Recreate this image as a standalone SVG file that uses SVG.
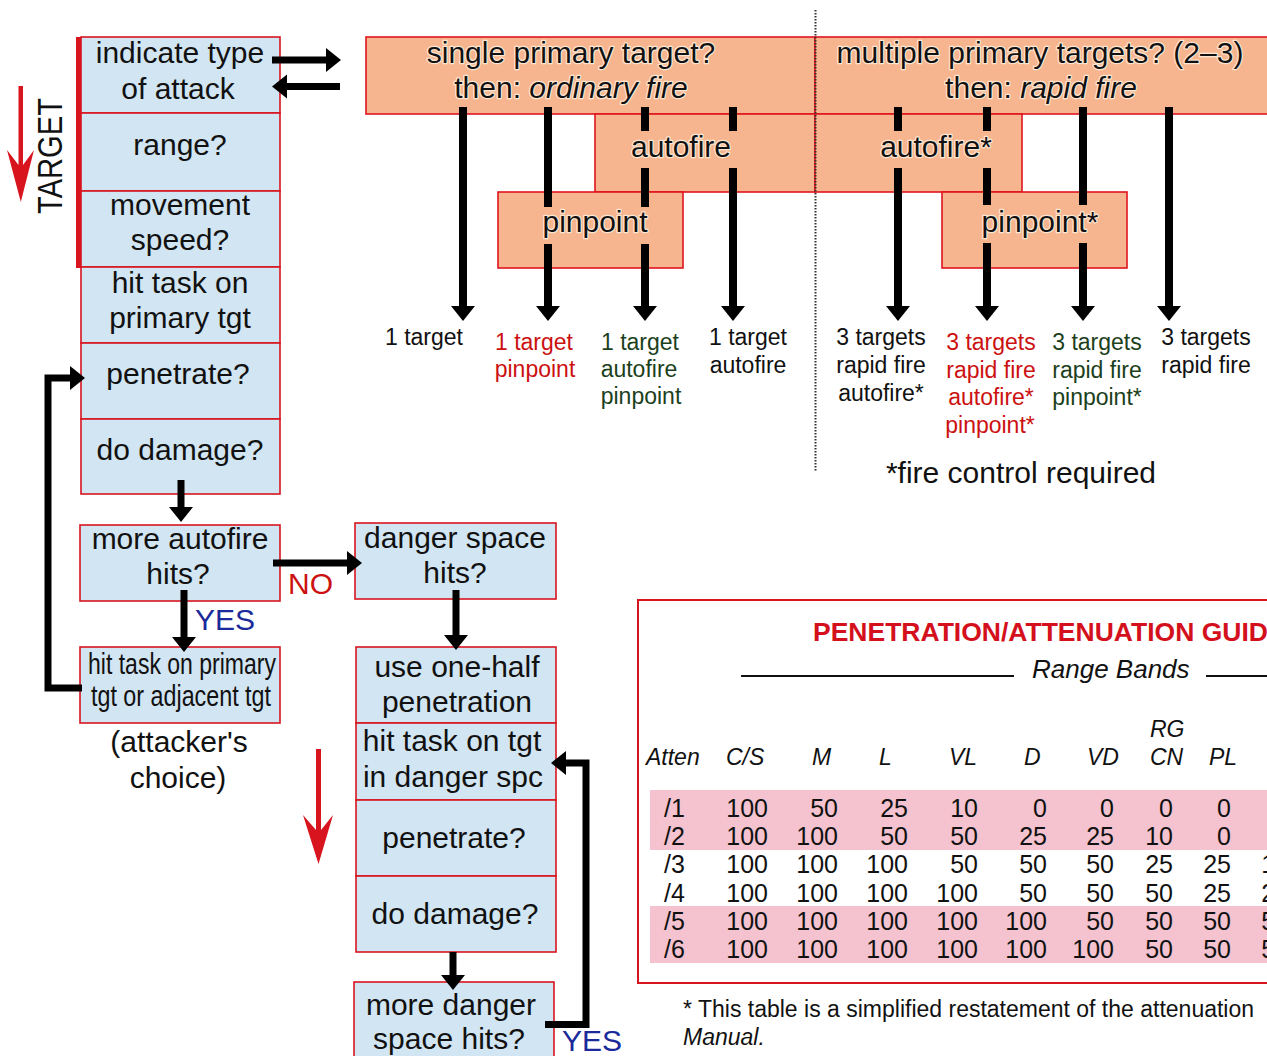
<svg xmlns="http://www.w3.org/2000/svg" width="1267" height="1056" viewBox="0 0 1267 1056">
<style>
.bx{fill:#d2e5f2;stroke:#d8141e;stroke-width:1.6}
.ob{fill:#f6b58f;stroke:#e0141e;stroke-width:1.6}
.t{font-family:"Liberation Sans",Arial,sans-serif;font-size:30px;text-anchor:middle;fill:#111}
.to{font-family:"Liberation Sans",Arial,sans-serif;font-size:30px;text-anchor:middle;fill:#111;stroke:#fde6d2;stroke-width:2.5;paint-order:stroke;stroke-linejoin:round}
.lb{font-family:"Liberation Sans",Arial,sans-serif;font-size:23px;text-anchor:middle;fill:#111}
.red{fill:#cc1111}
.grn{fill:#1c3f1c}
.blue{fill:#1a2a9a}
.con{fill:none;stroke:#000;stroke-width:7;stroke-linejoin:miter}
.cv{fill:none;stroke:#000;stroke-width:8}
.hd{font-family:"Liberation Sans",Arial,sans-serif;font-size:23px;font-style:italic;fill:#111}
.num{font-family:"Liberation Sans",Arial,sans-serif;font-size:25px;text-anchor:end;fill:#111}
.ra{fill:#d8141e}
</style>
<defs>
<marker id="ah" markerUnits="userSpaceOnUse" markerWidth="20" markerHeight="30" refX="0" refY="12" orient="auto" overflow="visible">
<path d="M0,0 L15,12 L0,24 Z" fill="#000"/>
</marker>
</defs>

<!-- left red bar and TARGET -->
<rect x="76" y="37" width="5" height="231" class="ra"/>
<text transform="translate(62,156) rotate(-90)" font-family="Liberation Sans, Arial, sans-serif" font-size="35" text-anchor="middle" fill="#111" textLength="116" lengthAdjust="spacingAndGlyphs">TARGET</text>
<path class="ra" d="M18.5,86 H23 V165 L34,150 L20.8,202 L7,150 L18.5,165 Z"/>
<path class="ra" d="M316,749 H321 V830 L333,815 L318.5,864 L303,815 L316,830 Z"/>

<!-- left column nodes -->
<g id="n-indicate"><rect class="bx" x="81" y="37" width="199" height="76"/><text class="t" x="180" y="63">indicate type</text><text class="t" x="178" y="99">of attack</text></g>
<g id="n-range"><rect class="bx" x="81" y="113" width="199" height="78"/><text class="t" x="180" y="155">range?</text></g>
<g id="n-movement"><rect class="bx" x="81" y="191" width="199" height="76"/><text class="t" x="180" y="215">movement</text><text class="t" x="180" y="250">speed?</text></g>
<g id="n-hittask"><rect class="bx" x="81" y="267" width="199" height="76"/><text class="t" x="180" y="293">hit task on</text><text class="t" x="180" y="328">primary tgt</text></g>
<g id="n-penetrate"><rect class="bx" x="81" y="343" width="199" height="76"/><text class="t" x="178" y="384">penetrate?</text></g>
<g id="n-damage"><rect class="bx" x="81" y="419" width="199" height="75"/><text class="t" x="180" y="460">do damage?</text></g>
<g id="n-moreauto"><rect class="bx" x="80" y="525" width="200" height="76"/><text class="t" x="180" y="549">more autofire</text><text class="t" x="178" y="584">hits?</text></g>
<g id="n-hitprimary"><rect class="bx" x="80" y="647" width="200" height="76"/><text class="t" x="182" y="674" font-size="21.5" textLength="188" lengthAdjust="spacingAndGlyphs">hit task on primary</text><text class="t" x="181" y="706" font-size="21.5" textLength="180" lengthAdjust="spacingAndGlyphs">tgt or adjacent tgt</text></g>
<g id="n-choice"><text class="t" x="179" y="752">(attacker's</text><text class="t" x="178" y="788">choice)</text></g>

<!-- danger space column -->
<g id="n-danger"><rect class="bx" x="355" y="523" width="201" height="76"/><text class="t" x="455" y="548">danger space</text><text class="t" x="455" y="583">hits?</text></g>
<g id="n-onehalf"><rect class="bx" x="356" y="647" width="200" height="76"/><text class="t" x="457" y="677">use one-half</text><text class="t" x="457" y="712">penetration</text></g>
<g id="n-hittgt"><rect class="bx" x="356" y="723" width="200" height="77"/><text class="t" x="452" y="751">hit task on tgt</text><text class="t" x="453" y="787">in danger spc</text></g>
<g id="n-penetrate2"><rect class="bx" x="356" y="800" width="200" height="76"/><text class="t" x="454" y="848">penetrate?</text></g>
<g id="n-damage2"><rect class="bx" x="356" y="876" width="200" height="76"/><text class="t" x="455" y="924">do damage?</text></g>
<g id="n-moredanger"><rect class="bx" x="354" y="982" width="200" height="80"/><text class="t" x="451" y="1015">more danger</text><text class="t" x="449" y="1049">space hits?</text></g>

<!-- orange boxes -->
<g id="n-single"><rect class="ob" x="366" y="37" width="449" height="77"/><text class="to" x="571" y="63">single primary target?</text><text class="to" x="571" y="98">then: <tspan font-style="italic">ordinary fire</tspan></text></g>
<g id="n-multiple"><rect class="ob" x="815" y="37" width="470" height="77"/><text class="to" x="1040" y="63">multiple primary targets? (2–3)</text><text class="to" x="1041" y="98">then: <tspan font-style="italic">rapid fire</tspan></text></g>
<g id="n-autofire"><rect class="ob" x="595" y="114" width="220" height="78"/><text class="to" x="681" y="157">autofire</text></g>
<g id="n-autofire2"><rect class="ob" x="815" y="114" width="207" height="78"/><text class="to" x="936" y="157">autofire*</text></g>
<g id="n-pinpoint"><rect class="ob" x="498" y="192" width="185" height="76"/><text class="to" x="595" y="232">pinpoint</text></g>
<g id="n-pinpoint2"><rect class="ob" x="942" y="192" width="185" height="76"/><text class="to" x="1040" y="232">pinpoint*</text></g>

<line x1="815.5" y1="10" x2="815.5" y2="472" stroke="#333" stroke-width="2" stroke-dasharray="1.5 1.5"/>

<!-- outcome labels -->
<g id="n-o1"><text class="lb" x="424" y="345">1 target</text></g>
<g id="n-o2"><text class="lb red" x="534" y="350">1 target</text><text class="lb red" x="535" y="377">pinpoint</text></g>
<g id="n-o3"><text class="lb grn" x="640" y="350">1 target</text><text class="lb grn" x="639" y="377">autofire</text><text class="lb grn" x="641" y="404">pinpoint</text></g>
<g id="n-o4"><text class="lb" x="748" y="345">1 target</text><text class="lb" x="748" y="373">autofire</text></g>
<g id="n-o5"><text class="lb" x="881" y="345">3 targets</text><text class="lb" x="881" y="373">rapid fire</text><text class="lb" x="881" y="401">autofire*</text></g>
<g id="n-o6"><text class="lb red" x="991" y="350">3 targets</text><text class="lb red" x="991" y="378">rapid fire</text><text class="lb red" x="991" y="405">autofire*</text><text class="lb red" x="990" y="433">pinpoint*</text></g>
<g id="n-o7"><text class="lb grn" x="1097" y="350">3 targets</text><text class="lb grn" x="1097" y="378">rapid fire</text><text class="lb grn" x="1097" y="405">pinpoint*</text></g>
<g id="n-o8"><text class="lb" x="1206" y="345">3 targets</text><text class="lb" x="1206" y="373">rapid fire</text></g>
<text class="t" x="1021" y="483">*fire control required</text>

<!-- connectors -->
<g id="connectors">
<path class="cv" d="M463,107 V306" marker-end="url(#ah)"/>
<path class="cv" d="M548,107 V207"/><path class="cv" d="M548,244 V306" marker-end="url(#ah)"/>
<path class="cv" d="M645,107 V131 M645,168 V207"/><path class="cv" d="M645,244 V306" marker-end="url(#ah)"/>
<path class="cv" d="M733,107 V131"/><path class="cv" d="M733,168 V306" marker-end="url(#ah)"/>
<path class="cv" d="M898,107 V131"/><path class="cv" d="M898,168 V306" marker-end="url(#ah)"/>
<path class="cv" d="M987,107 V131 M987,168 V205"/><path class="cv" d="M987,243 V306" marker-end="url(#ah)"/>
<path class="cv" d="M1083,107 V205"/><path class="cv" d="M1083,243 V306" marker-end="url(#ah)"/>
<path class="cv" d="M1169,107 V306" marker-end="url(#ah)"/>

<path class="con" d="M272,60 H326" stroke-width="6" marker-end="url(#ah)"/>
<path class="con" d="M340,86.5 H287" stroke-width="6" marker-end="url(#ah)"/>
<path class="con" d="M181,480 V507" marker-end="url(#ah)"/>
<path class="con" d="M273,563 H347" marker-end="url(#ah)"/>
<path class="con" d="M184,590 V637" marker-end="url(#ah)"/>
<path class="con" d="M456,590 V635" marker-end="url(#ah)"/>
<path class="con" d="M453,952 V975" marker-end="url(#ah)"/>
<path class="con" d="M82,688 H48 V378 H70" marker-end="url(#ah)"/>
<path class="con" d="M545,1024.5 H586 V763 H566" marker-end="url(#ah)"/>
</g>
<text x="288" y="594" font-family="Liberation Sans, Arial, sans-serif" font-size="30" fill="#cc1111">NO</text>
<text x="195" y="630" font-family="Liberation Sans, Arial, sans-serif" font-size="30" fill="#1a2a9a">YES</text>
<text x="562" y="1051" font-family="Liberation Sans, Arial, sans-serif" font-size="30" fill="#1a2a9a">YES</text>

<!-- table -->
<g id="table">
<rect x="638" y="600" width="700" height="383" fill="#fff" stroke="#d8141e" stroke-width="2"/>
<rect x="650" y="790" width="640" height="60" fill="#f4c3cf"/>
<rect x="650" y="906" width="640" height="57" fill="#f4c3cf"/>
<text x="813" y="641" font-family="Liberation Sans, Arial, sans-serif" font-size="26.5" font-weight="bold" fill="#d4101c">PENETRATION/ATTENUATION GUIDE</text>
<line x1="741" y1="676" x2="1014" y2="676" stroke="#111" stroke-width="2"/>
<line x1="1206" y1="676" x2="1267" y2="676" stroke="#111" stroke-width="2"/>
<text x="1032" y="678" font-family="Liberation Sans, Arial, sans-serif" font-size="26" font-style="italic" fill="#111">Range Bands</text>
<text class="hd" x="646" y="765">Atten</text>
<text class="hd" x="726" y="765">C/S</text>
<text class="hd" x="812" y="765">M</text>
<text class="hd" x="879" y="765">L</text>
<text class="hd" x="949" y="765">VL</text>
<text class="hd" x="1024" y="765">D</text>
<text class="hd" x="1087" y="765">VD</text>
<text class="hd" x="1150" y="737">RG</text>
<text class="hd" x="1150" y="765">CN</text>
<text class="hd" x="1209" y="765">PL</text>
<g font-family="Liberation Sans, Arial, sans-serif" font-size="25" fill="#111">
<text x="664" y="817">/1</text><text x="664" y="845">/2</text><text x="664" y="873">/3</text><text x="664" y="902">/4</text><text x="664" y="930">/5</text><text x="664" y="958">/6</text>
</g>
<text class="num" y="817"><tspan x="768">100</tspan><tspan x="838">50</tspan><tspan x="908">25</tspan><tspan x="978">10</tspan><tspan x="1047">0</tspan><tspan x="1114">0</tspan><tspan x="1173">0</tspan><tspan x="1231">0</tspan></text>
<text class="num" y="845"><tspan x="768">100</tspan><tspan x="838">100</tspan><tspan x="908">50</tspan><tspan x="978">50</tspan><tspan x="1047">25</tspan><tspan x="1114">25</tspan><tspan x="1173">10</tspan><tspan x="1231">0</tspan></text>
<text class="num" y="873"><tspan x="768">100</tspan><tspan x="838">100</tspan><tspan x="908">100</tspan><tspan x="978">50</tspan><tspan x="1047">50</tspan><tspan x="1114">50</tspan><tspan x="1173">25</tspan><tspan x="1231">25</tspan><tspan x="1289">10</tspan></text>
<text class="num" y="902"><tspan x="768">100</tspan><tspan x="838">100</tspan><tspan x="908">100</tspan><tspan x="978">100</tspan><tspan x="1047">50</tspan><tspan x="1114">50</tspan><tspan x="1173">50</tspan><tspan x="1231">25</tspan><tspan x="1289">25</tspan></text>
<text class="num" y="930"><tspan x="768">100</tspan><tspan x="838">100</tspan><tspan x="908">100</tspan><tspan x="978">100</tspan><tspan x="1047">100</tspan><tspan x="1114">50</tspan><tspan x="1173">50</tspan><tspan x="1231">50</tspan><tspan x="1289">50</tspan></text>
<text class="num" y="958"><tspan x="768">100</tspan><tspan x="838">100</tspan><tspan x="908">100</tspan><tspan x="978">100</tspan><tspan x="1047">100</tspan><tspan x="1114">100</tspan><tspan x="1173">50</tspan><tspan x="1231">50</tspan><tspan x="1289">50</tspan></text>
<text x="683" y="1017" font-family="Liberation Sans, Arial, sans-serif" font-size="23" fill="#111">* This table is a simplified restatement of the attenuation</text>
<text x="683" y="1045" font-family="Liberation Sans, Arial, sans-serif" font-size="23" font-style="italic" fill="#111">Manual.</text>
</g>
</svg>
